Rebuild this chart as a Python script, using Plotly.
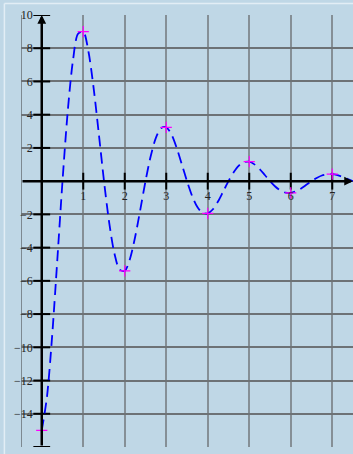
import plotly.graph_objects as go

# Damped oscillation sampled at eighth steps
curve_x = [0, 0.125, 0.25, 0.375, 0.5, 0.625, 0.75, 0.875,
           1, 1.125, 1.25, 1.375, 1.5, 1.625, 1.75, 1.875,
           2, 2.125, 2.25, 2.375, 2.5, 2.625, 2.75, 2.875,
           3, 3.125, 3.25, 3.375, 3.5, 3.625, 3.75, 3.875,
           4, 4.125, 4.25, 4.375, 4.5, 4.625, 4.75, 4.875,
           5, 5.125, 5.25, 5.375, 5.5, 5.625, 5.75, 5.875,
           6, 6.125, 6.25, 6.375, 6.5, 6.625, 6.75, 6.875,
           7, 7.125, 7.25, 7.375, 7.5]
curve_y = [-15, -13.0, -9.33, -4.74, 0, 4.17, 7.23, 8.87,
           9, 7.80, 5.60, 2.85, 0, -2.50, -4.34, -5.32,
           -5.4, -4.68, -3.36, -1.71, 0, 1.50, 2.60, 3.19,
           3.24, 2.81, 2.01, 1.02, 0, -0.90, -1.56, -1.91,
           -1.94, -1.69, -1.21, -0.61, 0, 0.54, 0.94, 1.15,
           1.17, 1.01, 0.73, 0.37, 0, -0.32, -0.56, -0.69,
           -0.70, -0.61, -0.44, -0.22, 0, 0.19, 0.34, 0.41,
           0.42, 0.36, 0.26, 0.13, 0]

# Highlighted values at whole numbers
point_x = [0, 1, 2, 3, 4, 5, 6, 7]
point_y = [-15, 9, -5.4, 3.24, -1.94, 1.17, -0.70, 0.42]

x_ticks = [1, 2, 3, 4, 5, 6, 7]
y_ticks = [-16, -14, -12, -10, -8, -6, -4, -2, 2, 4, 6, 8, 10]

x_range = [-0.5, 7.5]
y_range = [-16, 10]

BG = "#bfd7e6"
FONT = dict(family="Liberation Serif, DejaVu Serif, serif", size=12, color="#222222")

fig = go.Figure()

# tick marks crossing the axes
fig.add_trace(go.Scatter(
    x=[0] * len(y_ticks), y=y_ticks, mode="markers", hoverinfo="skip",
    marker=dict(symbol="line-ew", size=12, line=dict(color="black", width=2)),
    showlegend=False))
fig.add_trace(go.Scatter(
    x=x_ticks, y=[0] * len(x_ticks), mode="markers", hoverinfo="skip",
    marker=dict(symbol="line-ns", size=12, line=dict(color="black", width=2)),
    showlegend=False))

fig.add_trace(go.Scatter(
    x=curve_x, y=curve_y, mode="lines",
    line=dict(color="#0000ff", width=1.8, dash="11px,6px", shape="spline", smoothing=0.8),
    showlegend=False))

fig.add_trace(go.Scatter(
    x=point_x, y=point_y, mode="markers",
    marker=dict(symbol="cross-thin", size=8, line=dict(color="#ff00ff", width=1.2)),
    showlegend=False))

# axis lines with arrowheads
fig.add_annotation(x=0, y=y_range[1], ax=0, ay=y_range[0], xref="x", yref="y",
                   axref="x", ayref="y", text="", showarrow=True, arrowhead=2,
                   arrowsize=0.7, arrowwidth=2.5, arrowcolor="black", standoff=0)
fig.add_annotation(x=x_range[1], y=0, ax=x_range[0], ay=0, xref="x", yref="y",
                   axref="x", ayref="y", text="", showarrow=True, arrowhead=2,
                   arrowsize=0.7, arrowwidth=2.5, arrowcolor="black", standoff=0)

# left border of the grid
fig.add_shape(type="line", xref="x", yref="y", x0=x_range[0], x1=x_range[0],
              y0=y_range[0], y1=y_range[1], line=dict(color="#7d8991", width=2), layer="below")

# light outer frame
fig.add_shape(type="line", xref="paper", yref="paper", x0=-0.05, x1=1.05,
              y0=1.0266, y1=1.0266, line=dict(color="#e2edf5", width=1.5))
fig.add_shape(type="line", xref="paper", yref="paper", x0=-0.05, x1=-0.05,
              y0=-0.1, y1=1.0266, line=dict(color="#e2edf5", width=1.5))

fig.update_layout(
    width=353, height=454,
    margin=dict(l=21, r=0, t=15, b=7),
    paper_bgcolor=BG, plot_bgcolor=BG,
    font=FONT,
    xaxis=dict(range=x_range, tickvals=x_ticks, ticktext=[str(v) for v in x_ticks],
               showgrid=True, gridcolor="#858f96", gridwidth=1.8,
               zeroline=False, showline=False, ticks="",
               anchor="free", position=(0 - y_range[0]) / (y_range[1] - y_range[0]),
               ticklabelstandoff=6, fixedrange=True),
    yaxis=dict(range=y_range, tickvals=y_ticks,
               ticktext=[("\u2212" + str(-v)) if v < 0 else str(v) for v in y_ticks],
               showgrid=True, gridcolor="#6d7276", gridwidth=1.8,
               zeroline=False, showline=False, ticks="",
               anchor="free", position=(0 - x_range[0]) / (x_range[1] - x_range[0]),
               ticklabelstandoff=9, fixedrange=True),
)

fig.write_html("out.html")
